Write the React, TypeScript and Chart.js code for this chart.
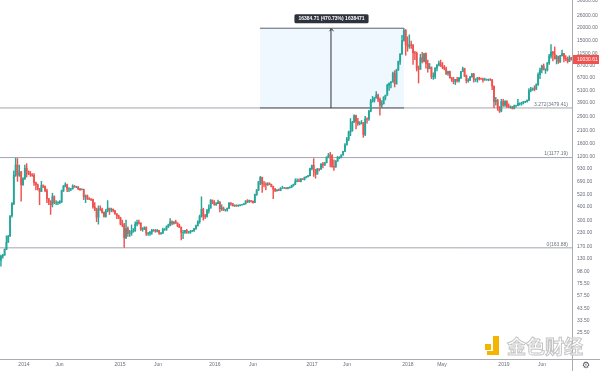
import React, { useEffect, useRef } from 'react';
import { Chart, registerables } from 'chart.js';
Chart.register(...registerables);

// Weekly candles from the week of 30 Sep 2013 (index 0) to the week of 9 Sep 2019
const firstOpen = 125;
const closes = [
  137, 140, 158, 185, 212, 330, 430, 800, 1000, 800,
  860, 650, 740, 930, 870, 830, 810, 800, 680, 650,
  600, 560, 640, 630, 570, 480, 450, 420, 500, 440,
  440, 440, 450, 570, 630, 650, 590, 590, 595, 630,
  620, 620, 595, 585, 590, 500, 510, 480, 475, 470,
  400, 380, 320, 385, 380, 355, 325, 365, 390, 375,
  380, 370, 345, 330, 315, 275, 270, 205, 250, 225,
  225, 235, 240, 275, 285, 280, 245, 245, 255, 225,
  225, 230, 240, 240, 235, 240, 225, 225, 245, 245,
  260, 270, 290, 280, 290, 280, 265, 255, 230, 230,
  240, 230, 230, 235, 238, 250, 265, 290, 325, 380,
  330, 325, 370, 390, 465, 440, 420, 430, 445, 385,
  390, 375, 375, 390, 435, 430, 410, 415, 410, 415,
  420, 420, 430, 455, 450, 460, 455, 440, 525, 580,
  690, 765, 665, 660, 650, 665, 655, 625, 590, 570,
  580, 575, 605, 605, 605, 600, 610, 615, 640, 655,
  700, 710, 700, 735, 730, 765, 775, 795, 925, 995,
  900, 820, 920, 915, 1020, 1000, 1050, 1185, 1240, 1230,
  970, 960, 1090, 1180, 1180, 1245, 1350, 1550, 1760, 2060,
  2100, 2540, 2950, 2600, 2470, 2500, 2520, 1950, 2740, 2730,
  3240, 4050, 4100, 4350, 4600, 4200, 3700, 3800, 4400, 4600,
  5700, 6000, 6150, 7400, 5900, 8000, 9600, 11300, 15200, 19000,
  13900, 13400, 13800, 13600, 11600, 11500, 8200, 8100, 10400, 9600,
  11400, 9200, 8200, 8500, 6900, 6900, 8300, 8900, 9250, 8700,
  8500, 8200, 7400, 7700, 6700, 6500, 6200, 6500, 6300, 6700,
  7700, 8200, 7000, 6300, 6400, 6900, 7300, 6500, 6500, 6700,
  6600, 6550, 6400, 6450, 6450, 6450, 6400, 5600, 4000, 4100,
  3500, 3250, 4000, 3700, 4000, 3600, 3550, 3550, 3450, 3650,
  3650, 3850, 3850, 3900, 4000, 4000, 4100, 5100, 5200, 5300,
  5250, 5800, 7200, 8000, 8700, 8000, 8000, 9300, 10800, 11800,
  11300, 10200, 10700, 9500, 10900, 11400, 10300, 10100, 9600, 10400,
  10030,
];
const highs = [
  140, 142, 160, 213, 215, 330, 440, 880, 1163, 1153,
  1000, 870, 760, 1000, 1030, 880, 870, 830, 830, 690,
  660, 600, 700, 650, 630, 590, 480, 460, 540, 510,
  460, 450, 460, 580, 640, 680, 660, 610, 600, 650,
  640, 630, 625, 600, 595, 590, 520, 520, 490, 480,
  475, 440, 390, 410, 410, 390, 360, 380, 460, 390,
  390, 385, 370, 345, 335, 320, 300, 280, 300, 260,
  240, 270, 250, 290, 300, 300, 285, 255, 260, 260,
  230, 235, 245, 245, 245, 245, 240, 230, 252, 250,
  265, 275, 310, 295, 290, 300, 285, 275, 260, 240,
  240, 245, 235, 240, 240, 250, 270, 295, 335, 500,
  390, 340, 380, 420, 470, 465, 460, 440, 465, 450,
  420, 400, 380, 390, 440, 440, 430, 420, 420, 420,
  420, 425, 430, 460, 470, 465, 460, 455, 530, 585,
  700, 780, 770, 700, 680, 680, 680, 660, 630, 600,
  585, 590, 610, 630, 615, 610, 615, 620, 645, 660,
  740, 740, 740, 750, 745, 770, 780, 800, 935, 1000,
  1150, 910, 930, 920, 1030, 1060, 1060, 1200, 1290, 1320,
  1260, 1120, 1100, 1210, 1200, 1250, 1350, 1600, 1830, 2100,
  2760, 2600, 3000, 2980, 2770, 2580, 2650, 2540, 2900, 2800,
  3300, 4200, 4480, 4380, 4980, 4700, 4350, 4100, 4450, 4600,
  5850, 6000, 6200, 7600, 7850, 8100, 9700, 11400, 17000, 19870,
  19300, 16500, 17200, 15000, 14000, 12000, 11800, 8700, 11250, 11700,
  11500, 11600, 9900, 9200, 8500, 7500, 8400, 9000, 9700, 9900,
  9400, 8800, 8500, 7800, 7800, 6800, 6800, 6500, 6800, 6800,
  7700, 8500, 8300, 7150, 6600, 6900, 7400, 7400, 6600, 6800,
  6800, 6700, 6700, 6700, 6550, 6550, 6600, 6500, 5600, 4400,
  4200, 3600, 4200, 4200, 4100, 4100, 3800, 3650, 3600, 3700,
  3700, 4200, 3900, 3950, 4000, 4050, 4150, 5300, 5450, 5400,
  5650, 5900, 7500, 8300, 8900, 9100, 8200, 9400, 11200, 13900,
  12000, 13200, 11000, 10800, 11000, 12300, 11500, 10900, 10600, 10900,
  10500,
];
const lows = [
  110, 131, 139, 160, 185, 210, 320, 420, 780, 700,
  780, 455, 640, 730, 770, 810, 780, 780, 640, 580,
  580, 420, 560, 610, 560, 440, 420, 340, 400, 430,
  420, 420, 430, 440, 560, 620, 560, 560, 570, 590,
  615, 610, 585, 575, 580, 470, 440, 470, 470, 460,
  390, 370, 290, 275, 370, 350, 320, 320, 360, 340,
  360, 360, 340, 310, 310, 270, 260, 165, 200, 210,
  210, 215, 230, 235, 265, 275, 240, 235, 245, 215,
  215, 215, 220, 235, 230, 232, 220, 220, 225, 240,
  240, 255, 265, 270, 275, 280, 260, 255, 195, 200,
  225, 225, 225, 225, 235, 235, 245, 265, 280, 320,
  300, 310, 320, 350, 390, 430, 415, 415, 430, 360,
  370, 370, 365, 365, 385, 415, 410, 405, 405, 405,
  410, 415, 420, 425, 440, 440, 445, 435, 440, 515,
  570, 650, 550, 620, 580, 640, 650, 620, 480, 560,
  565, 570, 570, 600, 600, 595, 595, 605, 610, 630,
  650, 690, 700, 690, 730, 720, 755, 770, 790, 900,
  780, 750, 820, 880, 910, 940, 990, 1050, 1170, 960,
  950, 890, 950, 1080, 1150, 1170, 1240, 1350, 1550, 1700,
  1900, 2100, 2540, 2200, 2380, 2400, 2450, 1830, 1900, 2500,
  2650, 3200, 3950, 3950, 4300, 4000, 2970, 3500, 3800, 4150,
  4600, 5100, 5400, 6100, 5500, 5850, 7900, 9000, 11300, 15000,
  11000, 12000, 12800, 12800, 9000, 10000, 7800, 6000, 8100, 9300,
  9500, 8300, 7600, 8200, 6600, 6500, 6600, 7800, 8700, 8600,
  8200, 8000, 7200, 7100, 6700, 6200, 5900, 5800, 6100, 6100,
  6600, 7700, 6900, 6000, 6100, 6300, 6800, 6100, 6200, 6100,
  6400, 6500, 6100, 6400, 6350, 6300, 6350, 5200, 3500, 3700,
  3300, 3150, 3200, 3600, 3600, 3500, 3500, 3450, 3400, 3400,
  3550, 3650, 3700, 3700, 3800, 3900, 3950, 4100, 4950, 5100,
  5050, 5200, 5700, 6600, 7500, 8000, 7400, 7800, 9000, 10300,
  9700, 10100, 9100, 9200, 9400, 10800, 9500, 9800, 9300, 9600,
  9900,
];

// Axis ticks
const yTickValues = [36000, 26000, 20000, 15000, 11500, 8700, 6700, 5100, 3900, 2900, 2100, 1600, 1200, 930, 690, 520, 400, 300, 230, 170, 130, 98, 75.5, 57.5, 43.5, 33.5, 25.5];
const xTickWeeks = [12.5, 31.8, 64.7, 85.4, 116.3, 137, 169.1, 188.1, 221.2, 239.7, 273.4, 294.1];
const xTickLabels = ['2014', 'Jun', '2015', 'Jun', '2016', 'Jun', '2017', 'Jun', '2018', 'May', '2019', 'Jun'];

// Drawings
const fibLevels = [3479.41, 1177.19, 163.88];
const fibLabels = ['3.272(3479.41)', '1(1177.19)', '0(163.88)'];
const rangeFrom = 3479.41;
const rangeTo = 19864.12;
const rangeWeeks = [140.8, 219.1];
const arrowWeek = 179.4;
const rangeLabel = '16384.71 (470.73%) 1638471';
const lastPrice = 10030.61;
const lastPriceLabel = '10030.61';

const X_MIN = -0.5;
const X_MAX = 310.4;
const Y_MIN = 14.45;
const Y_MAX = 36800;
const UP = '#26a69a';
const DOWN = '#ef5350';
const FONT = '"Liberation Sans", Arial, sans-serif';

const opens = closes.map((_, i) => (i === 0 ? firstOpen : closes[i - 1]));

const annotPlugin = {
  id: 'annot',
  afterDraw(chart: any) {
    const { ctx, scales, chartArea } = chart;
    const x = scales.x;
    const y = scales.y;
    ctx.save();
    // axis lines
    ctx.strokeStyle = '#a9acb5';
    ctx.lineWidth = 1;
    ctx.beginPath();
    ctx.moveTo(Math.round(chartArea.right) + 0.5, 0);
    ctx.lineTo(Math.round(chartArea.right) + 0.5, chart.height);
    ctx.moveTo(0, Math.round(chartArea.bottom) + 0.5);
    ctx.lineTo(chart.width, Math.round(chartArea.bottom) + 0.5);
    ctx.stroke();

    // fib labels
    ctx.font = `5px ${FONT}`;
    ctx.fillStyle = '#6f7380';
    ctx.textAlign = 'right';
    ctx.textBaseline = 'bottom';
    fibLevels.forEach((lv, i) => {
      ctx.fillText(fibLabels[i], chartArea.right - 4, y.getPixelForValue(lv) - 1);
    });

    // arrow head
    const ax = Math.round(x.getPixelForValue(arrowWeek)) + 0.5;
    const top = y.getPixelForValue(rangeTo);
    ctx.strokeStyle = '#333';
    ctx.beginPath();
    ctx.moveTo(ax - 2, top + 3);
    ctx.lineTo(ax, top + 0.5);
    ctx.lineTo(ax + 2, top + 3);
    ctx.stroke();

    // range label
    ctx.font = `bold 5px ${FONT}`;
    const tw = ctx.measureText(rangeLabel).width;
    const bw = tw + 8;
    const bh = 9;
    const bx = ax - bw / 2;
    const by = top - 14;
    ctx.fillStyle = '#2e323d';
    ctx.beginPath();
    (ctx as any).roundRect ? ctx.roundRect(bx, by, bw, bh, 1.5) : ctx.rect(bx, by, bw, bh);
    ctx.fill();
    ctx.fillStyle = '#ffffff';
    ctx.textAlign = 'center';
    ctx.textBaseline = 'middle';
    ctx.fillText(rangeLabel, ax, by + bh / 2 + 0.3);

    // last price label
    const py = y.getPixelForValue(lastPrice);
    ctx.fillStyle = DOWN;
    ctx.fillRect(chartArea.right + 1, py - 4.5, 26, 9);
    ctx.fillStyle = '#ffffff';
    ctx.font = `5px ${FONT}`;
    ctx.textAlign = 'left';
    ctx.fillText(lastPriceLabel, chartArea.right + 5, py + 0.3);

    // watermark
    ctx.fillStyle = '#f4b400';
    ctx.fillRect(485, 344, 6, 6);
    ctx.fillRect(493, 336, 6, 18);
    ctx.fillRect(487, 351, 12, 4);
    ctx.font = `bold 19px "Noto Sans CJK SC", sans-serif`;
    ctx.textAlign = 'left';
    ctx.textBaseline = 'middle';
    ctx.lineWidth = 1;
    ctx.fillStyle = 'rgba(255,255,255,0.9)';
    ctx.fillText('金色财经', 507, 347);
    ctx.strokeStyle = '#c4c4c4';
    ctx.strokeText('金色财经', 507, 347);

    // gear
    ctx.fillStyle = '#555';
    ctx.font = `9px "DejaVu Sans", sans-serif`;
    ctx.textAlign = 'center';
    ctx.fillText('\u2699', 586, 365.5);
    ctx.restore();
  },
};

export default function App() {
  const ref = useRef<HTMLCanvasElement | null>(null);
  useEffect(() => {
    if (!ref.current) return;
    const colors = closes.map((c, i) => (c >= opens[i] ? UP : DOWN));
    const wickData = closes.map((c, i) => ({
      x: i,
      y: [Math.min(lows[i], opens[i], c), Math.max(highs[i], opens[i], c)],
    }));
    const bodyData = closes.map((c, i) => ({ x: i, y: [opens[i], c] }));
    const hLine = (v: number, a: number, b: number) => [{ x: a, y: v }, { x: b, y: v }];

    const datasets: any[] = [
      {
        type: 'line',
        data: hLine(rangeTo, rangeWeeks[0], rangeWeeks[1]),
        borderColor: '#5d606b',
        borderWidth: 1,
        pointRadius: 0,
        fill: { value: rangeFrom },
        backgroundColor: 'rgba(33,150,243,0.07)',
        order: 10,
      },
      ...fibLevels.map((lv) => ({
        type: 'line',
        data: hLine(lv, X_MIN, X_MAX),
        borderColor: '#a3a6ae',
        borderWidth: 1,
        pointRadius: 0,
        fill: false,
        order: 8,
      })),
      {
        type: 'line',
        data: hLine(rangeFrom, rangeWeeks[0], rangeWeeks[1]),
        borderColor: '#5d606b',
        borderWidth: 1,
        pointRadius: 0,
        fill: false,
        order: 7,
      },
      {
        type: 'bar',
        data: wickData,
        backgroundColor: colors,
        barThickness: 0.8,
        grouped: false,
        order: 3,
      },
      {
        type: 'bar',
        data: bodyData,
        backgroundColor: colors,
        barThickness: 1.2,
        grouped: false,
        order: 2,
      },
      {
        type: 'line',
        data: [{ x: arrowWeek, y: rangeFrom }, { x: arrowWeek, y: rangeTo }],
        borderColor: '#333',
        borderWidth: 1,
        pointRadius: 0,
        fill: false,
        order: 1,
      },
    ];

    const chart = new Chart(ref.current, {
      type: 'bar',
      data: { datasets },
      options: {
        animation: false,
        responsive: false,
        maintainAspectRatio: false,
        layout: { padding: 0 },
        plugins: { legend: { display: false }, tooltip: { enabled: false } },
        scales: {
          x: {
            type: 'linear',
            min: X_MIN,
            max: X_MAX,
            offset: false,
            grid: { display: false, drawTicks: false },
            border: { display: false },
            afterBuildTicks: (s: any) => {
              s.ticks = xTickWeeks.map((v) => ({ value: v }));
            },
            afterFit: (s: any) => {
              s.height = 12;
              s.paddingLeft = 0;
              s.paddingRight = 0;
            },
            ticks: {
              autoSkip: false,
              maxRotation: 0,
              padding: 3,
              color: '#6a6d78',
              font: { size: 5, family: FONT },
              callback: (_v: any, i: number) => xTickLabels[i],
            },
          },
          y: {
            type: 'logarithmic',
            position: 'right',
            min: Y_MIN,
            max: Y_MAX,
            grid: { display: false, drawTicks: false },
            border: { display: false },
            afterBuildTicks: (s: any) => {
              s.ticks = yTickValues.map((v) => ({ value: v }));
            },
            afterFit: (s: any) => {
              s.width = 28;
              s.paddingTop = 0;
              s.paddingBottom = 0;
            },
            ticks: {
              autoSkip: false,
              padding: 5,
              color: '#6a6d78',
              font: { size: 5, family: FONT },
              callback: (v: any) => Number(v).toFixed(2),
            },
          },
        },
      } as any,
      plugins: [annotPlugin],
    });
    return () => chart.destroy();
  }, []);

  return (
    <div style={{ position: 'absolute', left: 0, top: 0, width: 600, height: 371, background: '#fff' }}>
      <canvas ref={ref} width={600} height={371} style={{ display: 'block' }} />
    </div>
  );
}
